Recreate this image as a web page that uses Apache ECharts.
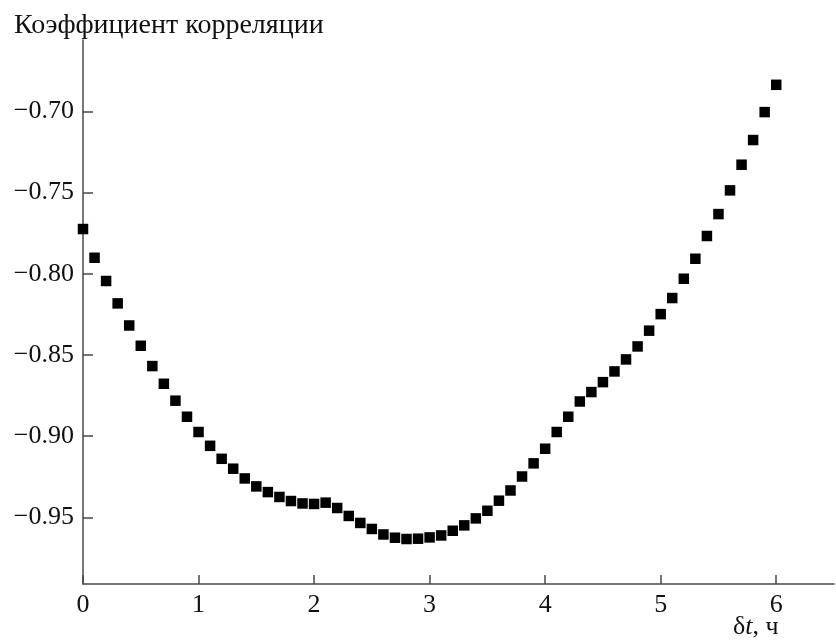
<!DOCTYPE html>
<html>
<head>
<meta charset="utf-8">
<script src="https://cdn.jsdelivr.net/npm/echarts@6/dist/echarts.min.js"></script>
<style>
  html, body { margin: 0; padding: 0; background: #fff; }
  #chart { width: 836px; height: 641px; }
</style>
</head>
<body>
<div id="chart"></div>
<script>
// Time shift, hours
const shiftHours = [
  0.0, 0.1, 0.2, 0.3, 0.4, 0.5, 0.6, 0.7, 0.8, 0.9,
  1.0, 1.1, 1.2, 1.3, 1.4, 1.5, 1.6, 1.7, 1.8, 1.9,
  2.0, 2.1, 2.2, 2.3, 2.4, 2.5, 2.6, 2.7, 2.8, 2.9,
  3.0, 3.1, 3.2, 3.3, 3.4, 3.5, 3.6, 3.7, 3.8, 3.9,
  4.0, 4.1, 4.2, 4.3, 4.4, 4.5, 4.6, 4.7, 4.8, 4.9,
  5.0, 5.1, 5.2, 5.3, 5.4, 5.5, 5.6, 5.7, 5.8, 5.9,
  6.0
];

// Correlation coefficient for each shift
const correlation = [
  -0.7724, -0.7901, -0.8044, -0.8182, -0.8318, -0.8443, -0.8568, -0.8677, -0.8781, -0.8880,
  -0.8974, -0.9059, -0.9139, -0.9200, -0.9260, -0.9309, -0.9344, -0.9374, -0.9399, -0.9414,
  -0.9417, -0.9409, -0.9442, -0.9491, -0.9534, -0.9571, -0.9605, -0.9625, -0.9633, -0.9631,
  -0.9623, -0.9611, -0.9582, -0.9549, -0.9506, -0.9459, -0.9397, -0.9334, -0.9248, -0.9167,
  -0.9077, -0.8974, -0.8880, -0.8786, -0.8728, -0.8667, -0.8601, -0.8527, -0.8447, -0.8350,
  -0.8248, -0.8149, -0.8030, -0.7907, -0.7767, -0.7632, -0.7486, -0.7328, -0.7176, -0.7004,
  -0.6836
];

const xTicks = [0, 1, 2, 3, 4, 5, 6];
const yTicks = [-0.95, -0.90, -0.85, -0.80, -0.75, -0.70];

const yTitle = 'Коэффициент корреляции';

const serif = '"Liberation Serif", "DejaVu Serif", serif';
const ink = '#111111';
const axisColor = '#484848';

const points = shiftHours.map((x, i) => [x, correlation[i]]);

const chart = echarts.init(document.getElementById('chart'), null, { renderer: 'canvas' });

chart.setOption({
  animation: false,
  backgroundColor: '#ffffff',
  title: {
    text: yTitle,
    left: 9,
    top: 7,
    textStyle: { fontFamily: serif, fontSize: 28, fontWeight: 'normal', color: ink }
  },
  // x-axis caption "δt, ч" below the right end of the axis
  graphic: [{
    type: 'text',
    left: 733,
    top: 614,
    style: {
      text: '{r|δ}{i|t}{r|, ч}',
      rich: {
        r: { fontFamily: serif, fontSize: 26, fill: ink },
        i: { fontFamily: serif, fontSize: 26, fontStyle: 'italic', fill: ink }
      }
    }
  }],
  grid: { left: 83, top: 40, width: 751, bottom: 57, containLabel: false },
  xAxis: {
    type: 'value',
    min: 0,
    max: 6.5,
    axisLine: { show: true, onZero: false, lineStyle: { color: axisColor, width: 1.5 } },
    axisTick: { show: true, inside: true, length: 9, customValues: xTicks, lineStyle: { color: axisColor, width: 1.5 } },
    axisLabel: {
      customValues: xTicks,
      margin: 8,
      fontFamily: serif, fontSize: 26, color: ink
    },
    splitLine: { show: false }
  },
  yAxis: {
    type: 'value',
    min: -0.991,
    max: -0.656,
    axisLine: { show: true, onZero: false, lineStyle: { color: axisColor, width: 1.5 } },
    axisTick: { show: true, inside: true, length: 10, customValues: yTicks, lineStyle: { color: axisColor, width: 1.5 } },
    axisLabel: {
      customValues: yTicks,
      margin: 9,
      fontFamily: serif, fontSize: 26, color: ink,
      formatter: v => v.toFixed(2).replace('-', '\u2212')
    },
    splitLine: { show: false }
  },
  series: [{
    type: 'scatter',
    data: points,
    symbol: 'rect',
    symbolSize: 10.5,
    itemStyle: { color: '#000000', opacity: 1 }
  }]
});
</script>
</body>
</html>
